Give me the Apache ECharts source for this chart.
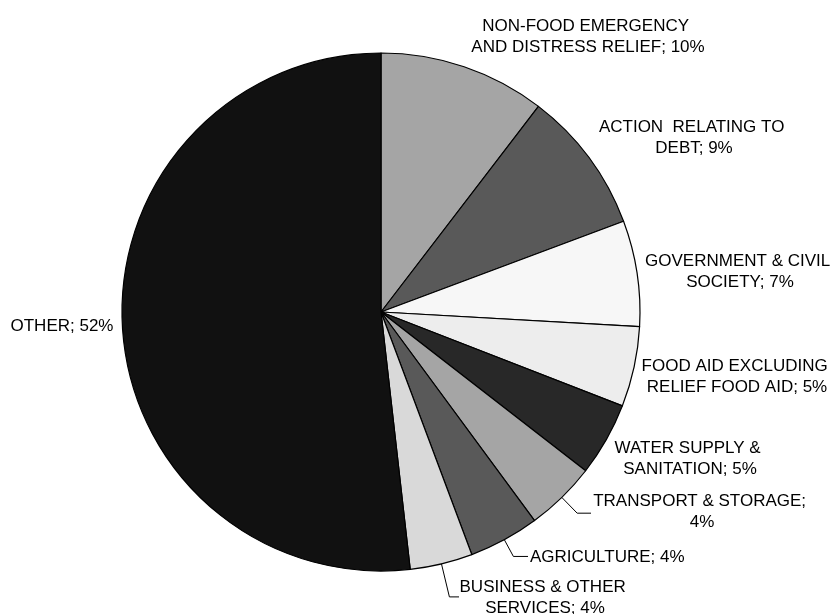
<!DOCTYPE html>
<html>
<head>
<meta charset="utf-8">
<script src="https://cdn.jsdelivr.net/npm/echarts@6/dist/echarts.min.js"></script>
<style>html,body{margin:0;padding:0;background:#fff;}#c{width:836px;height:614px;}</style>
</head>
<body>
<div id="c"></div>
<script>
// Data
var categories = [
  'NON-FOOD EMERGENCY AND DISTRESS RELIEF',
  'ACTION  RELATING TO DEBT',
  'GOVERNMENT & CIVIL SOCIETY',
  'FOOD AID EXCLUDING RELIEF FOOD AID',
  'WATER SUPPLY & SANITATION',
  'TRANSPORT & STORAGE',
  'AGRICULTURE',
  'BUSINESS & OTHER SERVICES',
  'OTHER'
];
var values = [10.4, 8.9, 6.6, 5.0, 4.6, 4.4, 4.4, 3.9, 51.8];

// Styles
var colors = ['#a5a5a5', '#595959', '#f7f7f7', '#ededed', '#282828', '#a5a5a5', '#595959', '#d9d9d9', '#111111'];
var labelWidths = [245, 200, 192, 192, 156, 222, 200, 172, 120];
var labelPos = [[588, 37], [694, 138], [740, 272], [737, 377], [690, 459], [702, 512], [530, 557], [545, 598], [62, 326]];
var labelAlign = ['center', 'center', 'center', 'center', 'center', 'center', 'left', 'center', 'center'];
var leadLen = [null, null, null, null, null, 22, 19, 34, null];
var leadEnd = [null, null, null, null, null, 591, 528, 459, null];

var data = categories.map(function (name, i) {
  return {
    name: name,
    value: values[i],
    itemStyle: { color: colors[i] },
    label: { width: labelWidths[i], overflow: 'break' },
    labelLine: leadLen[i] != null ? { show: true, length: leadLen[i], length2: 10 } : { show: false }
  };
});

var chart = echarts.init(document.getElementById('c'), null, { renderer: 'canvas' });
chart.setOption({
  animation: false,
  backgroundColor: '#ffffff',
  series: [{
    type: 'pie',
    center: [381, 312],
    radius: [0, 259],
    startAngle: 90,
    clockwise: true,
    avoidLabelOverlap: false,
    silent: true,
    data: data,
    itemStyle: { borderColor: '#000', borderWidth: 1.2 },
    label: {
      show: true,
      position: 'outside',
      fontFamily: '"Liberation Sans", Arial, sans-serif',
      fontSize: 17,
      lineHeight: 21,
      color: '#000',
      formatter: function (p) { return p.name + '; ' + Math.round(p.percent) + '%'; }
    },
    labelLine: { lineStyle: { color: '#000', width: 1 }, smooth: false },
    labelLayout: function (p) {
      var i = p.dataIndex;
      var out = { x: labelPos[i][0], y: labelPos[i][1], align: labelAlign[i], verticalAlign: 'middle', moveOverlap: null };
      if (leadEnd[i] != null && p.labelLinePoints) {
        var a = p.labelLinePoints[0], b = p.labelLinePoints[1];
        out.labelLinePoints = [a, b, [leadEnd[i], b[1]]];
      }
      return out;
    }
  }]
});
</script>
</body>
</html>
